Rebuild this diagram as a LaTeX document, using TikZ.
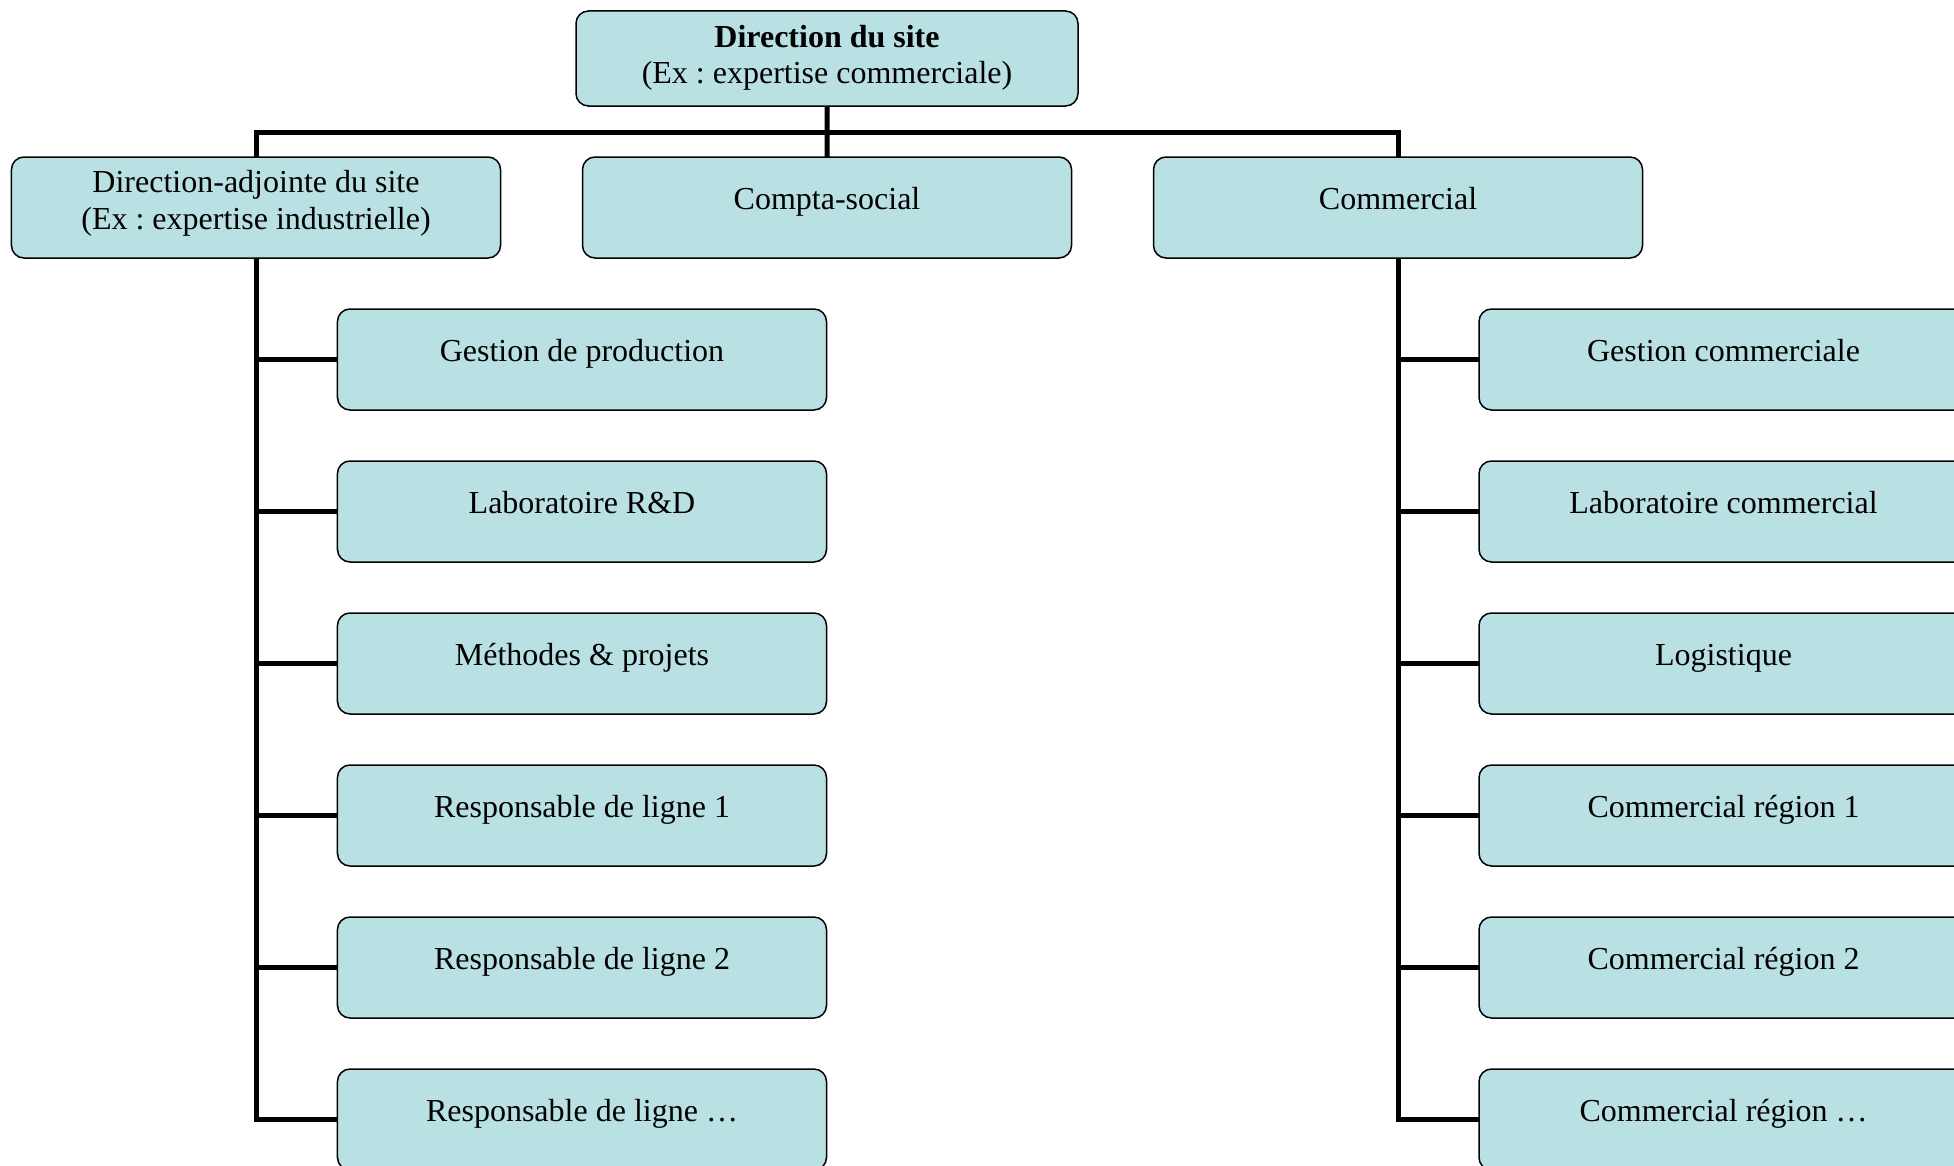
\documentclass[tikz,border=0pt]{standalone}
\usepackage{fontspec}
\setmainfont{Liberation Serif}
\usetikzlibrary{positioning}
\definecolor{boxfill}{RGB}{185,224,227}
\frenchspacing

\begin{document}
\begin{tikzpicture}[x=0.4pt, y=-0.4pt,
        unit/.style={draw, line width=0.6pt, rounded corners=5pt, fill=boxfill, outer sep=0pt,
            minimum width=195.6pt, minimum height=40.4pt, text depth=7pt,
            font=\fontsize{12.8}{14.5}\selectfont},
        twoline/.style={align=center, text depth=6pt},
        link/.style={line width=2pt},
        node distance=20.4pt]
    \useasboundingbox (0,0) rectangle (1954,1166);
    \clip (0,0) rectangle (1954,1166);

    % top and second level
    \node[unit, twoline, minimum width=200.8pt, minimum height=38pt, text depth=3pt] (site) at (827,58.5)
        {\textbf{Direction du site}\\(Ex : expertise commerciale)};
    \node[unit, twoline] (adjoint) at (256,207.5) {Direction-adjointe du site\\(Ex : expertise industrielle)};
    \node[unit, right=32.8pt of adjoint] (compta) {Compta-social};
    \node[unit, right=32.8pt of compta] (commercial) {Commercial};
    \coordinate (bus) at (827,132);

    % industrial side
    \node[unit] (prod) at (582,359.5) {Gestion de production};
    \node[unit, below=of prod] (labo) {Laboratoire R\&D};
    \node[unit, below=of labo] (methodes) {Méthodes \& projets};
    \node[unit, below=of methodes] (ligne1) {Responsable de ligne 1};
    \node[unit, below=of ligne1] (ligne2) {Responsable de ligne 2};
    \node[unit, below=of ligne2] (ligneN) {Responsable de ligne …};

    % commercial side
    \node[unit] (gestcom) at (1723.5,359.5) {Gestion commerciale};
    \node[unit, below=of gestcom] (labocom) {Laboratoire commercial};
    \node[unit, below=of labocom] (logistique) {Logistique};
    \node[unit, below=of logistique] (region1) {Commercial région 1};
    \node[unit, below=of region1] (region2) {Commercial région 2};
    \node[unit, below=of region2] (regionN) {Commercial région …};

    % connectors
    \draw[link] (site.south) -- (compta.north);
    \draw[link] (adjoint.north) |- (bus) -| (commercial.north);
    \draw[link] (adjoint.south) |- (ligneN.west);
    \foreach \n in {prod, labo, methodes, ligne1, ligne2}
        \draw[link] (\n.west) -- (\n.west -| adjoint.south);
    \draw[link] (commercial.south) |- (regionN.west);
    \foreach \n in {gestcom, labocom, logistique, region1, region2}
        \draw[link] (\n.west) -- (\n.west -| commercial.south);
\end{tikzpicture}
\end{document}
